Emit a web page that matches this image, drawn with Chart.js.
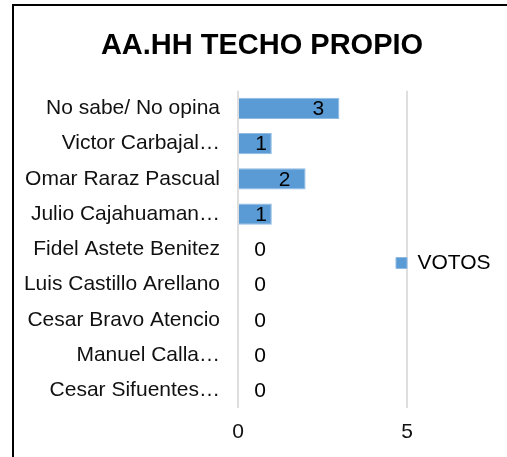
<!DOCTYPE html>
<html>
<head>
<meta charset="utf-8">
<script src="https://cdn.jsdelivr.net/npm/chart.js@4.4.0/dist/chart.umd.min.js"></script>
<style>
  html, body { margin: 0; padding: 0; background: #fff; overflow: hidden; }
  body { width: 507px; height: 457px; position: relative; }
  #marco { position: absolute; left: 12px; top: 4px; width: 600px; height: 600px; border: 2px solid #000; }
  #caja { position: absolute; left: 14px; top: 6px; width: 496px; height: 451px; }
</style>
</head>
<body>
<div id="marco"></div>
<div id="caja"><canvas id="votos"></canvas></div>
<script>
const titulo = 'AA.HH TECHO PROPIO';
const serie = 'VOTOS';
const categorias = ['No sabe/ No opina', 'Victor Carbajal…', 'Omar Raraz Pascual', 'Julio Cajahuaman…', 'Fidel Astete Benitez', 'Luis Castillo Arellano', 'Cesar Bravo Atencio', 'Manuel Calla…', 'Cesar Sifuentes…'];
const votos = [3, 1, 2, 1, 0, 0, 0, 0, 0];
const ticksX = [0, 5];

window.onload = inicio;

function inicio() {
  graficoVotos();
}

// etiquetas de datos tipo "extremo interno"
const etiquetas = {
  id: 'etiquetas',
  afterDatasetsDraw(chart) {
    const ctx = chart.ctx;
    const meta = chart.getDatasetMeta(0);
    ctx.save();
    ctx.font = '21px "Liberation Sans", Arial, sans-serif';
    ctx.fillStyle = '#000';
    ctx.textAlign = 'center';
    ctx.textBaseline = 'middle';
    meta.data.forEach((barra, i) => {
      const x = Math.max(barra.x - 21, barra.base + 22);
      ctx.fillText(String(votos[i]), x, barra.y + 1);
    });
    ctx.restore();
  }
};

// la leyenda de Excel se monta un poco sobre el area del grafico
const moverLeyenda = {
  id: 'moverLeyenda',
  afterLayout(chart) {
    const lg = chart.legend;
    lg.left = chart.chartArea.right - 31;
    lg.width = 140;
    lg.right = lg.left + lg.width;
    lg.top += 26;
    lg.bottom += 26;
  }
};

function graficoVotos() {
  const ctx = document.getElementById('votos');
  Chart.defaults.font.family = '"Liberation Sans", Arial, sans-serif';

  new Chart(ctx, {
    type: 'bar',
    data: {
      labels: categorias,
      datasets: [{
        label: serie,
        data: votos,
        backgroundColor: '#5b9bd5',
        borderColor: '#8fbbe3',
        borderWidth: 1,
        categoryPercentage: 1,
        barPercentage: 0.6
      }]
    },
    options: {
      indexAxis: 'y',
      responsive: true,
      maintainAspectRatio: false,
      animation: false,
      layout: {
        padding: { top: 11, bottom: 0, left: 0, right: 0 }
      },
      plugins: {
        title: {
          display: true,
          text: titulo,
          color: '#000',
          font: { size: 29, weight: 'bold' },
          padding: { top: 12, bottom: 27 }
        },
        legend: {
          display: true,
          position: 'right',
          maxWidth: 103,
          labels: {
            color: '#000',
            boxWidth: 11,
            boxHeight: 11,
            padding: 20,
            font: { size: 21 }
          }
        },
        tooltip: { enabled: false }
      },
      scales: {
        x: {
          min: 0,
          max: 5,
          afterBuildTicks: (scale) => { scale.ticks = ticksX.map(v => ({ value: v })); },
          border: { display: false },
          grid: { color: '#dedede', lineWidth: 2, drawTicks: false },
          ticks: { color: '#111', padding: 12, font: { size: 21 } }
        },
        y: {
          afterFit: (scale) => { scale.width = 224; },
          border: { display: false },
          grid: { display: false },
          ticks: { color: '#111', padding: 10, autoSkip: false, font: { size: 21 } }
        }
      }
    },
    plugins: [etiquetas, moverLeyenda]
  });
}
</script>
</body>
</html>
